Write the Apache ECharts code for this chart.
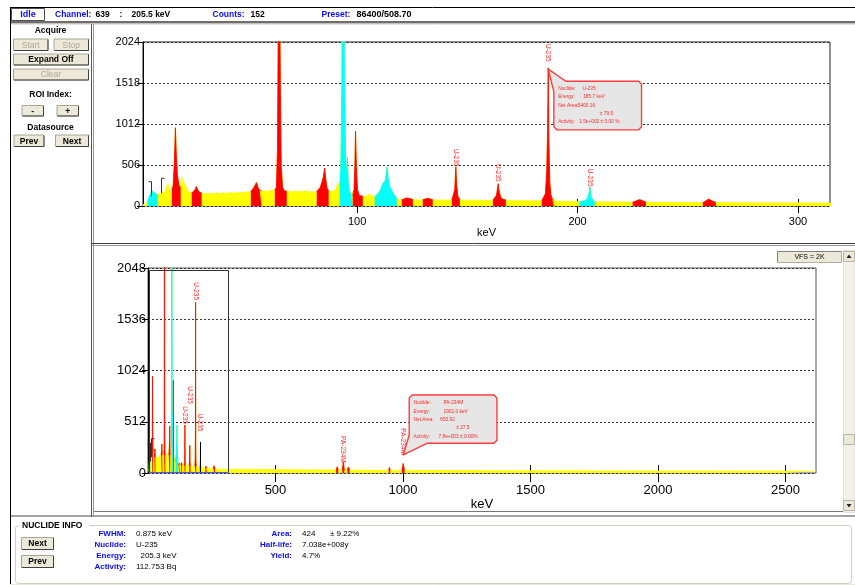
<!DOCTYPE html>
<html><head><meta charset="utf-8">
<script src="https://cdn.jsdelivr.net/npm/echarts@6/dist/echarts.min.js"></script>
<style>html,body{margin:0;padding:0;background:#fff}#main{width:855px;height:585px}</style>
</head><body><div id="main"></div>
<script>
// ---------------- DATA ----------------
// Spectrum: [energy keV, counts]
const spectrumLow = [
  [2.9,18],[4.0,22],[5.0,60],[5.6,110],[6.3,150],[7.0,185],[7.5,195],[8.2,160],[9.0,140],[9.6,135],
  [10.4,150],[11.2,160],[12.0,155],[12.8,175],[13.6,240],[14.2,285],[14.8,210],[15.4,175],[16.0,190],
  [16.6,260],[17.1,520],[17.6,966],[18.0,640],[18.5,380],[19.2,260],[20.0,220],
  [20.3,360],[21.0,320],[21.8,270],[22.6,230],[23.4,190],[24.2,165],[25.0,160],
  [25.8,175],[26.5,200],[27.1,240],[27.7,200],[28.5,170],[29.5,160],
  [30.5,150],[31.5,158],[32.5,152],[33.5,160],[34.5,148],[35.5,156],[36.5,162],[37.5,150],[38.5,158],
  [39.5,165],[40.5,155],[41.5,160],[42.5,168],[43.5,158],[44.5,165],[45.5,160],[46.5,170],[47.5,162],
  [48.5,168],[49.5,175],[50.5,170],[51.8,178],
  [52.6,195],[53.3,230],[53.9,265],[54.4,290],[55.0,230],[55.8,195],[56.7,185],
  [57.5,182],[58.5,188],[59.5,180],[60.5,190],[61.5,195],[62.7,200]
];
const spectrumMid = [
  [63.4,230],[63.9,700],[64.3,2500],[64.8,3000],[65.2,1500],[65.6,500],[66.2,230],[67.0,190],[68.1,180],
  [69,175],[70,180],[71,172],[72,185],[73,178],[74,182],[75,176],[76,180],[77,186],[78,178],[79,175],[80,172],[81.7,180],
  [82.5,190],[83.3,230],[84.0,290],[84.7,360],[85.3,470],[85.8,330],[86.4,220],[87.1,185],
  [88,170],[89,180],[90,195],[90.8,250],[91.4,285],[92.1,250],
  [92.6,450],[93.0,1200],[93.4,3000],[93.9,3200],[94.3,1600],[94.8,600],[95.2,350],[95.6,600],[96.0,280],[96.6,180],[97.3,140],[98.0,130],
  [98.6,200],[99.0,500],[99.3,925],[99.7,480],[100.2,200],[101.0,130],[101.8,125],[102.6,120],
  [103.5,115],[104.5,120],[105.5,150],[106.5,125],[107.3,118],[108.0,115],
  [109,140],[110,170],[110.8,210],[111.5,270],[112.2,250],[112.9,320],[113.6,480],[114.2,330],[114.8,240],[115.5,220],[116.3,160],[117.1,125],[118.0,95]
];
const spectrumUpper = [
  [119,80],[120.3,78],
  [121.3,85],[122.3,100],[123.0,105],[123.8,92],[124.5,85],[125.3,80],
  [126.5,75],[127.5,78],[128.5,72],[129.8,76],
  [130.8,85],[131.6,105],[132.3,95],[133.3,85],[134.3,78],
  [135.5,72],[136.5,76],[137.5,70],[138.5,74],[139.5,70],[140.5,75],[141.5,72],[143.0,75],
  [143.8,95],[144.3,200],[144.8,480],[145.2,260],[145.7,120],[146.6,78],
  [147.5,72],[148.5,70],[149.5,74],[150.5,68],[151.5,72],[152.5,70],[153.5,73],[154.5,69],[155.5,72],
  [156.5,68],[157.5,71],[158.5,69],[159.5,72],[160.5,68],[161.6,72],
  [162.5,85],[163.2,130],[163.6,200],[164.0,275],[164.5,170],[165.2,105],[166.2,82],[167.5,74],
  [168.5,66],[169.5,70],[170.5,64],[171.5,68],[172.5,65],[173.5,69],[174.5,63],[175.5,67],[176.5,64],
  [177.5,68],[178.5,62],[179.5,66],[180.5,63],[181.5,67],[182.5,64],[183.8,66],
  [184.6,85],[185.4,150],[186.0,420],[186.4,900],[186.7,1705],[187.0,800],[187.4,300],[187.9,140],[188.5,90],[189.3,70],
  [190.5,58],[191.5,62],[192.5,56],[193.5,60],[194.5,55],[195.5,59],[196.5,54],[197.5,58],[198.5,55],[199.5,57],[201.0,55],
  [202,58],[203,62],[204,75],[204.7,110],[205.2,160],[205.6,235],[206.0,140],[206.6,85],[207.2,65],[207.8,55],
  [209,52],[210,48],[211,53],[212,47],[213,52],[214,49],[215,51],[216,47],[217,52],[218,48],[219,50],[220,46],
  [221,51],[222,48],[223,50],[225,48],
  [226,55],[227,68],[228,78],[229,72],[230,58],[231,50],
  [232.5,46],[234,44],[235.5,48],[237,43],[238.5,47],[240,44],[241.5,46],[243,42],[244.5,46],[246,43],
  [247.5,45],[249,41],[250.5,45],[252,42],[253.5,44],[255,41],[256.8,44],
  [257.8,55],[258.6,72],[259.4,85],[260.2,78],[261.2,60],[262.7,46],
  [264,42],[266,40],[268,43],[270,39],[272,42],[274,38],[276,41],[278,39],[280,42],[282,37],[284,40],
  [286,38],[288,41],[290,37],[292,40],[294,36],[296,39],[298,37],[300,40],[302,36],[304,38],[306,35],
  [308,38],[310,36],[312,38],[314,35],[316,37]
];
const spectrumHigh = [
  [330,38],[360,36],[400,37],[450,35],[500,34],[550,33],[600,32],[650,31],[700,30],
  [738,30],[742,62],[746,30],[762,30],[766,110],[770,30],[782,30],[786,60],[790,29],
  [850,28],[900,27],[944,27],[947,55],[950,27],[996,26],[1001,95],[1006,26],
  [1100,25],[1200,24],[1300,24],[1400,23],[1500,23],[1600,22],[1700,22],[1800,21],[1900,21],
  [2000,20],[2100,20],[2200,20],[2300,19],[2400,19],[2500,19],[2620,18]
];
// ROI ranges [start keV, end keV]
const redROIs = [[16,20],[25,29.5],[51.8,56.7],[62.7,68.1],[81.7,87.1],[98,102.6],[120.3,125.3],[129.8,134.3],
  [143,146.6],[161.6,167.5],[183.8,189.3],[225,231],[256.8,262.7],[738,746],[762,770],[782,790],[944,950],[996,1006]];
const cyanROIs = [[5,9.6],[92.1,98],[108,118],[201,207.8]];
// ROI bracket markers [keV, top counts, bottom counts, side]
const roiBrackets = [[6.4,300,115,'R'],[10.9,342,157,'L']];
// Peak labels [keV, counts at label end, text]
const peakLabelsTop = [[144.8,485,'U-235'],[164.0,300,'U-235'],[186.7,1781,'U-235'],[205.6,240,'U-235']];
const peakLabelsBottom = [[144.8,490,'U-235'],[164.0,690,'U-235'],[186.7,1728,'U-235'],[205.6,415,'U-235'],
  [766,103,'PA-234M'],[1001,180,'PA-234M']];
// Callouts
const calloutTopPeak = [186.7, 1690];
const calloutTopLines = [['Nuclide:','U-235'],['Energy:','185.7 keV'],['Net Area:','5400.16'],['','± 79.5'],['Activity:','1.5e+002 ± 0.00 %']];
const calloutBottomPeak = [1001, 180];
const calloutBottomLines = [['Nuclide:','PA-234M'],['Energy:','1001.0 keV'],['Net Area:','653.92'],['','± 27.5'],['Activity:','7.8e+003 ± 0.00%']];
// cursor [keV, counts]
const cursorMark = [[205.5, 310]];
// view window shown in upper plot [minKeV, maxKeV, maxCounts]
const viewWindow = [[2.9, 314.5, 2024]];
// axis ticks
const topXTicks = [100, 200, 300];
const bottomXTicks = [500, 1000, 1500, 2000, 2500];

// ---------------- BUILD ----------------
const FONT = '"Liberation Sans", Arial, Helvetica, sans-serif';
const BLUE = '#0a0aff';
const YELLOW = '#ffff00', RED = '#ff0000', CYAN = '#00ffff';
const LABEL_RED = '#ff2a2a';
const spectrum = [].concat(spectrumLow, spectrumMid, spectrumUpper, spectrumHigh);

function regionData(rois) {
  const out = [];
  rois.forEach(([a, b]) => {
    spectrum.forEach(p => { if (p[0] >= a - 1e-9 && p[0] <= b + 1e-9) out.push(p); });
    out.push(['-', '-']);
  });
  return out;
}
function area(name, data, color, gi, z) {
  return {type:'line', name, data, xAxisIndex:gi, yAxisIndex:gi, symbol:'none', showSymbol:false,
    lineStyle:{width:0.8, color}, itemStyle:{color}, areaStyle:{color, opacity:1}, connectNulls:false,
    clip:true, z, silent:true, animation:false, emphasis:{disabled:true}};
}
function labelSeries(list, gi) {
  return {type:'custom', xAxisIndex:gi, yAxisIndex:gi, z:10, silent:true, clip:false, animation:false,
    data: list.map(d => [d[0], d[1]]),
    renderItem(params, api) {
      const p = api.coord([api.value(0), api.value(1)]);
      const t = list[params.dataIndex][2];
      return {type:'text', x:Math.round(p[0]), y:p[1], rotation:-Math.PI/2,
        style:{text:t, fill:LABEL_RED, fontSize:6.5, fontFamily:FONT, align:'right', verticalAlign:'middle', textAlign:'right', textVerticalAlign:'middle'}};
    }};
}
function bracketSeries(gi) {
  return {type:'custom', xAxisIndex:gi, yAxisIndex:gi, z:9, silent:true, animation:false,
    data: roiBrackets.map(b => [b[0], b[1]]),
    renderItem(params, api) {
      const b = roiBrackets[params.dataIndex];
      const top = api.coord([b[0], b[1]]), bot = api.coord([b[0], b[2]]);
      const x = Math.round(top[0]) + 0.5;
      const dir = b[3] === 'L' ? 1 : -1;
      return {type:'polyline', shape:{points:[[x + dir*3, top[1]], [x, top[1]], [x, bot[1]]]},
        style:{stroke:'#333', lineWidth:1, fill:null}};
    }};
}
// callout geometry (style): box offset from tip, size, tail base points rel. box, text rows & value x
const calloutStyles = {
  top: {dx:5.6, dy:12.2, w:87.7, h:48.6, tailA:[0,10.3], tailB:[12,0], rows:[6.6,15,23.6,32,40.3], vx:[28.7,29.3,24,46,25.3], lx:4.3},
  bottom: {dx:6, dy:-60, w:87.7, h:48.3, tailA:[0,40], tailB:[17.7,48.3], rows:[7.7,16,24.3,32.7,41], vx:[34.3,34.3,31,47,29.3], lx:4.3}
};
function ctext(x, y, s) {
  return {type:'text', x, y, scaleX:0.8, style:{text:s, fill:LABEL_RED, fontSize:6, fontFamily:FONT,
    align:'left', verticalAlign:'middle', textAlign:'left', textVerticalAlign:'middle'}};
}
function calloutSeries(peak, lines, st, gi) {
  return {type:'custom', xAxisIndex:gi, yAxisIndex:gi, z:12, silent:true, clip:false, animation:false,
    data:[peak],
    renderItem(params, api) {
      const p = api.coord([api.value(0), api.value(1)]);
      const bx = p[0] + st.dx, by = p[1] + st.dy, w = st.w, h = st.h, c = 3;
      const A = [bx + st.tailA[0], by + st.tailA[1]], B = [bx + st.tailB[0], by + st.tailB[1]];
      let pts;
      if (st.tailB[1] === 0) {
        pts = [B, [bx+w-c, by], [bx+w, by+c], [bx+w, by+h-c], [bx+w-c, by+h], [bx+c, by+h], [bx, by+h-c], A, p];
      } else {
        pts = [[bx+c, by], [bx+w-c, by], [bx+w, by+c], [bx+w, by+h-c], [bx+w-c, by+h], B, p, A, [bx, by+c]];
      }
      const children = [{type:'polygon', shape:{points:pts}, style:{fill:'#e6e6e6', stroke:'#ff3c3c', lineWidth:1.4, lineJoin:'round'}}];
      lines.forEach((ln, i) => {
        const y = by + st.rows[i];
        if (ln[0]) children.push(ctext(bx + st.lx, y, ln[0]));
        children.push(ctext(bx + st.vx[i], y, ln[1]));
      });
      return {type:'group', children};
    }};
}
const cursorSeries = {type:'custom', xAxisIndex:1, yAxisIndex:1, z:11, silent:true, animation:false,
  data: cursorMark,
  renderItem(params, api) {
    const t = api.coord([api.value(0), api.value(1)]), b = api.coord([api.value(0), 0]);
    const x = Math.round(t[0]) + 0.5;
    return {type:'line', shape:{x1:x, y1:t[1], x2:x, y2:b[1]}, style:{stroke:'#000', lineWidth:1}};
  }};
const windowSeries = {type:'custom', xAxisIndex:1, yAxisIndex:1, z:11, silent:true, clip:false, animation:false,
  data: viewWindow,
  renderItem(params, api) {
    const a = api.coord([api.value(0), api.value(2)]), b = api.coord([api.value(1), 0]);
    const x1 = Math.round(a[0]) + 0.5, x2 = Math.round(b[0]) + 0.5, y1 = Math.round(a[1]) + 0.5, y2 = Math.round(b[1]) - 0.5;
    return {type:'group', children:[
      {type:'polyline', shape:{points:[[x1,y2],[x1,y1],[x2,y1],[x2,y2]]}, style:{stroke:'#333', lineWidth:1, fill:null}},
      {type:'line', shape:{x1:x1, y1:y2, x2:x2, y2:y2}, style:{stroke:'#5a5ad0', lineWidth:1}}
    ]};
  }};

// --------------- UI CHROME ----------------
function T(x, y, text, o) {
  o = o || {};
  const al = o.align || 'left';
  return {type:'text', x, y, z:50, silent:true, style:{text, fill:o.fill || '#000', fontSize:o.size || 9,
    fontWeight:o.bold ? 'bold' : 'normal', fontFamily:FONT, align:al, verticalAlign:'middle', textAlign:al, textVerticalAlign:'middle'}};
}
function R(x, y, w, h, fill, stroke, lw, r) {
  return {type:'rect', z:40, silent:true, shape:{x, y, width:w, height:h, r:r || 0},
    style:{fill:fill || 'none', stroke:stroke || 'none', lineWidth:lw || 1}};
}
function L(x1, y1, x2, y2, stroke, lw) {
  return {type:'line', z:45, silent:true, shape:{x1, y1, x2, y2}, style:{stroke, lineWidth:lw || 1}};
}
function button(x, y, w, h, label, enabled, bold) {
  return [
    R(x + .5, y + .5, w, h, '#ece9d8', '#a8a595'),
    L(x + 1, y + h + .5, x + w + .5, y + h + .5, '#404040'),
    L(x + w + .5, y + 1, x + w + .5, y + h + .5, '#404040'),
    T(x + w / 2 + .5, y + h / 2 + 1, label, {align:'center', fill: enabled ? '#000' : '#aca899', bold, size:8.5})
  ];
}
let chrome = [];
// status bar
chrome.push(L(10, 7.5, 855, 7.5, '#000'));
chrome.push(R(11.5, 8.5, 33, 12, '#fff', '#505050'));
chrome.push(T(28, 15, 'Idle', {bold:true, fill:BLUE, align:'center', size:9}));
chrome.push(T(55, 15, 'Channel:', {bold:true, fill:BLUE, size:8.5}));
chrome.push(T(95.5, 15, '639', {bold:true, size:8.5}));
chrome.push(T(119.5, 15, ':', {bold:true, size:8.5}));
chrome.push(T(131.5, 15, '205.5 keV', {bold:true, size:8.5}));
chrome.push(T(212.5, 15, 'Counts:', {bold:true, fill:BLUE, size:8.5}));
chrome.push(T(250.5, 15, '152', {bold:true, size:8.5}));
chrome.push(T(321.5, 15, 'Preset:', {bold:true, fill:BLUE, size:8.5}));
chrome.push(T(356.5, 15, '86400/508.70', {bold:true, size:9}));
chrome.push(R(10, 21, 845, 2.5, '#6e6e6e'));
chrome.push(L(10, 24, 855, 24, '#cfcbbd'));
// left panel
chrome.push(L(10.5, 7, 10.5, 585, '#000'));
chrome.push(L(91.5, 24, 91.5, 517, '#555'));
chrome.push(L(93.5, 24, 93.5, 517, '#999'));
chrome.push(T(50.5, 30.5, 'Acquire', {bold:true, align:'center', size:8.5}));
chrome = chrome.concat(button(13, 38.5, 34.5, 11.5, 'Start', false, false));
chrome = chrome.concat(button(53.5, 38.5, 34.5, 11.5, 'Stop', false, false));
chrome = chrome.concat(button(13, 53.5, 75, 11, 'Expand Off', true, true));
chrome = chrome.concat(button(13, 68.5, 75, 11, 'Clear', false, false));
chrome.push(T(50.5, 95, 'ROI Index:', {bold:true, align:'center', size:8.5}));
chrome = chrome.concat(button(21.5, 105, 21.5, 10.5, '-', true, true));
chrome = chrome.concat(button(56.5, 105, 21.5, 10.5, '+', true, true));
chrome.push(T(50.5, 128, 'Datasource', {bold:true, align:'center', size:8.5}));
chrome = chrome.concat(button(13.5, 134.5, 30, 11.5, 'Prev', true, true));
chrome = chrome.concat(button(55, 134.5, 33, 11.5, 'Next', true, true));
// panel separators
chrome.push(L(92, 243.5, 855, 243.5, '#404040'));
chrome.push(L(92, 245.5, 855, 245.5, '#9a9a9a'));
chrome.push(L(94, 511.5, 843, 511.5, '#777'));
chrome.push(R(10, 515, 845, 2, '#a3a3a3'));
// VFS box + scrollbar
chrome.push(R(777.5, 251.5, 64, 11, '#ece9d8', '#b0ad9f'));
chrome.push(L(777.5, 251.5, 841.5, 251.5, '#808080'));
chrome.push(L(777.5, 251.5, 777.5, 262.5, '#808080'));
chrome.push(T(809.5, 257.5, 'VFS = 2K', {align:'center', size:7}));
chrome.push(R(843.5, 250.5, 11.5, 262, '#f3f1ea', '#e4e1d6'));
chrome.push(R(843.5, 251.5, 11, 10, '#ece9d8', '#b8b5a8'));
chrome.push({type:'polygon', z:46, silent:true, shape:{points:[[849,254.5],[846.5,258],[851.5,258]]}, style:{fill:'#222'}});
chrome.push(R(843.5, 500.5, 11, 10, '#ece9d8', '#b8b5a8'));
chrome.push({type:'polygon', z:46, silent:true, shape:{points:[[849,507.5],[846.5,504],[851.5,504]]}, style:{fill:'#222'}});
chrome.push(R(843.5, 434.5, 11, 10, '#ece9d8', '#b8b5a8'));
// nuclide info
chrome.push(R(15.5, 525.5, 836, 58, null, '#d0d0bf', 1, 3));
chrome.push(R(19, 520, 70, 10, '#fff'));
chrome.push(T(22, 526, 'NUCLIDE INFO', {bold:true, size:8.5}));
chrome = chrome.concat(button(21, 537, 32, 12, 'Next', true, true));
chrome = chrome.concat(button(21, 555, 32, 12, 'Prev', true, true));
const infoLeft = [['FWHM:','0.875 keV'],['Nuclide:','U-235'],['Energy:','  205.3 keV'],['Activity:','112.753 Bq']];
const infoRight = [['Area:','424'],['Half-life:','7.038e+008y'],['Yield:','4.7%']];
const rowsY = [534, 545, 556, 567];
infoLeft.forEach((r, i) => {
  chrome.push(T(126, rowsY[i], r[0], {align:'right', bold:true, fill:BLUE, size:8}));
  chrome.push(T(136, rowsY[i], r[1], {size:8}));
});
infoRight.forEach((r, i) => {
  chrome.push(T(292, rowsY[i], r[0], {align:'right', bold:true, fill:BLUE, size:8}));
  chrome.push(T(302, rowsY[i], r[1], {size:8}));
});
chrome.push(T(330, rowsY[0], '± 9.22%', {size:8}));
chrome.push(L(10, 584.5, 855, 584.5, '#e8e8dc'));

// --------------- OPTION ----------------
const axisText = (s) => ({fontSize:s, color:'#000', fontFamily:FONT});
const plain = v => String(v);
const option = {
  animation:false,
  backgroundColor:'#fff',
  grid:[
    {left:143, top:42, width:687, height:164, show:true, borderColor:'#222', borderWidth:1, backgroundColor:'transparent', containLabel:false, outerBoundsMode:'none'},
    {left:148, top:268, width:668, height:205, show:true, borderColor:'#555', borderWidth:1, backgroundColor:'transparent', containLabel:false, outerBoundsMode:'none'}
  ],
  xAxis:[
    {type:'value', gridIndex:0, min:2.9, max:314.5, offset:-7,
      axisLine:{show:false, onZero:false},
      axisTick:{show:true, length:14, customValues:topXTicks, lineStyle:{color:'#000', width:1}},
      axisLabel:Object.assign({show:true, customValues:topXTicks, margin:17, formatter:plain}, axisText(11)),
      splitLine:{show:false},
      name:'keV', nameLocation:'middle', nameGap:28, nameTextStyle:axisText(11)},
    {type:'value', gridIndex:1, min:0, max:2620, offset:-8,
      axisLine:{show:false, onZero:false},
      axisTick:{show:true, length:17, customValues:bottomXTicks, lineStyle:{color:'#000', width:1}},
      axisLabel:Object.assign({show:true, customValues:bottomXTicks, margin:19, formatter:plain}, axisText(13)),
      splitLine:{show:false},
      name:'keV', nameLocation:'middle', nameGap:33, nameTextStyle:axisText(13)}
  ],
  yAxis:[
    {type:'value', gridIndex:0, min:0, max:2024, interval:506,
      axisLine:{show:true, lineStyle:{color:'#000'}},
      axisTick:{show:true, length:6, lineStyle:{color:'#000'}},
      axisLabel:Object.assign({margin:3, formatter:plain}, axisText(11)),
      splitLine:{show:true, lineStyle:{color:'#333', type:[2,2], width:1}}},
    {type:'value', gridIndex:1, min:0, max:2048, interval:512,
      axisLine:{show:true, lineStyle:{color:'#000'}},
      axisTick:{show:true, length:6, lineStyle:{color:'#000'}},
      axisLabel:Object.assign({margin:2, formatter:plain}, axisText(13)),
      splitLine:{show:true, lineStyle:{color:'#333', type:[2,2], width:1}}}
  ],
  series:[
    area('spectrum-top', spectrum, YELLOW, 0, 2),
    area('red-top', regionData(redROIs), RED, 0, 3),
    area('cyan-top', regionData(cyanROIs), CYAN, 0, 4),
    bracketSeries(0),
    labelSeries(peakLabelsTop, 0),
    calloutSeries(calloutTopPeak, calloutTopLines, calloutStyles.top, 0),
    area('spectrum-bottom', spectrum, YELLOW, 1, 2),
    area('red-bottom', regionData(redROIs), RED, 1, 3),
    area('cyan-bottom', regionData(cyanROIs), CYAN, 1, 4),
    bracketSeries(1),
    cursorSeries,
    windowSeries,
    labelSeries(peakLabelsBottom, 1),
    calloutSeries(calloutBottomPeak, calloutBottomLines, calloutStyles.bottom, 1)
  ],
  graphic: chrome
};
const chart = echarts.init(document.getElementById('main'), null, {renderer:'canvas', width:855, height:585});
chart.setOption(option);
</script></body></html>
